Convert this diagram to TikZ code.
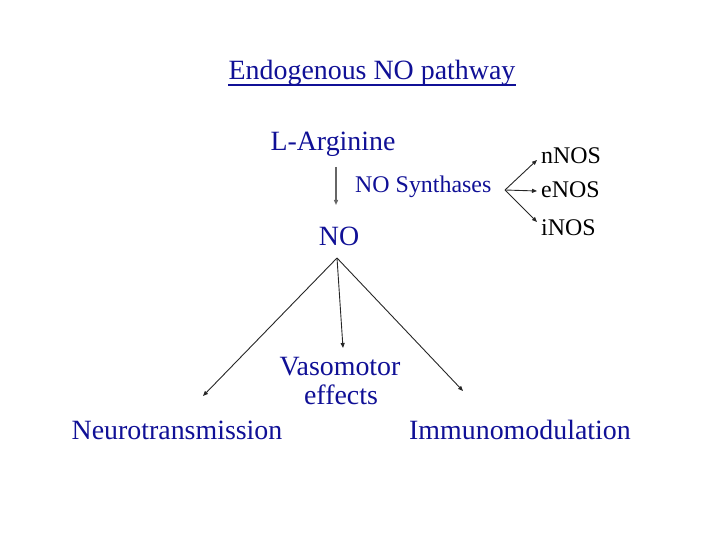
\documentclass[tikz,border=0pt]{standalone}
\usepackage{fontspec}
\setmainfont{Liberation Serif}
\usetikzlibrary{arrows.meta}

\definecolor{navy}{RGB}{16,16,150}

\begin{document}
\begin{tikzpicture}[x=1bp, y=-1bp, every node/.style={inner sep=0pt},
	big/.style={font=\fontsize{28}{30}\selectfont, text=navy},
	small/.style={font=\fontsize{24}{26}\selectfont},
	arr/.style={-{Triangle[length=5bp, width=4bp]}, black!85, line width=0.9bp}]
	\useasboundingbox (0,0) rectangle (720,540);
	% title
	\node[big, anchor=base] (title) at (372,80) {Endogenous NO pathway};
	\draw[navy, line width=1.2bp] ([yshift=-5bp]title.base west) -- ([yshift=-5bp]title.base east);
	% synthesis
	\node[big, anchor=base] (arg) at (333,151) {L-Arginine};
	\node[big, anchor=base] (no) at (339,246) {NO};
	\node[small, anchor=base west, text=navy] (syn) at (355,193) {NO Synthases};
	\node[small, anchor=base west] (nnos) at (541,164) {nNOS};
	\node[small, anchor=base west] (enos) at (541,198) {eNOS};
	\node[small, anchor=base west] (inos) at (541,236) {iNOS};
	\coordinate (fork) at (505,190);
	\coordinate (argend) at (336,167);
	\coordinate (noend) at (336,205);
	\draw[arr, black!60, line width=1.3bp] (argend) -- (noend);
	\foreach \n/\y in {nnos/160, enos/191, inos/222} {\draw[arr] (fork) -- (537,\y);}
	% effects
	\node[big, anchor=base] (vaso) at (340,375) {Vasomotor};
	\node[big, anchor=base] at (341,404) {effects};
	\node[big, anchor=base] (neuro) at (177,439) {Neurotransmission};
	\node[big, anchor=base] (immuno) at (520,439) {Immunomodulation};
	\coordinate (notop) at (337,258);
	\coordinate (ntend) at (203,396);
	\coordinate (vmend) at (343,348);
	\coordinate (imend) at (463,391);
	\foreach \e in {ntend, vmend, imend} {\draw[arr] (notop) -- (\e);}
\end{tikzpicture}
\end{document}
